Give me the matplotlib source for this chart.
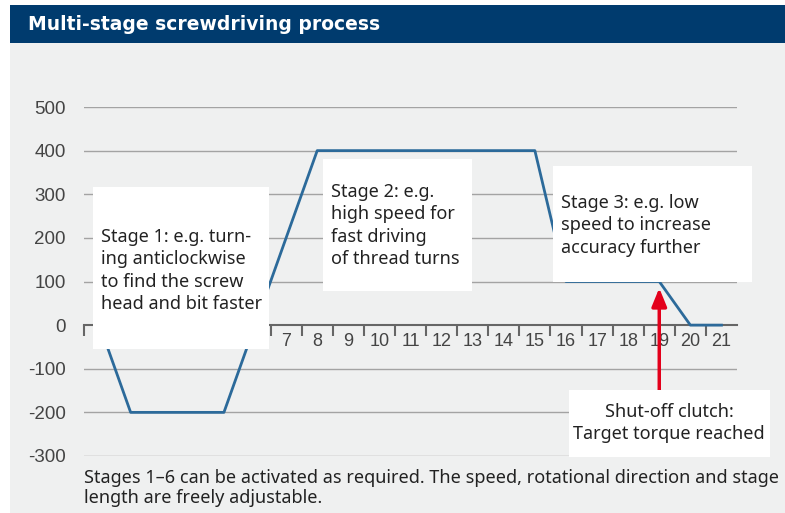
import matplotlib.pyplot as plt
from matplotlib.patches import Rectangle

plt.rcParams['axes.unicode_minus'] = False

# stage profile: speed per time step
steps = list(range(1, 22))
speed = [0, -200, -200, -200, -200, 0, 200, 400, 400, 400, 400, 400, 400, 400, 400,
         100, 100, 100, 100, 0, 0]
yticks = [-300, -200, -100, 0, 100, 200, 300, 400, 500]

W, H = 785, 513
fig = plt.figure(figsize=(W / 100, H / 100), dpi=100)
fig.patch.set_facecolor('white')


def box(x0, y0, x1, y1, color, z=5):
    # pixel coords from top-left
    r = Rectangle((x0 / W, 1 - y1 / H), (x1 - x0) / W, (y1 - y0) / H,
                  transform=fig.transFigure, facecolor=color, edgecolor='none', zorder=z)
    fig.add_artist(r)


# backgrounds
box(10, 43, 785, 513, '#eff0f0', z=0)
box(10, 5, 785, 43, '#003b6e', z=0)
fig.text(28 / W, 1 - 24 / H, 'Multi-stage screwdriving process', color='white',
         fontsize=13.5, fontweight='bold', family='DejaVu Sans', va='center', ha='left')

# chart area
ax = fig.add_axes([84 / W, 1 - 456 / H, (737 - 84) / W, (456 - 107) / H])
ax.set_facecolor('none')
ax.set_xlim(0.5, 21.5)
ax.set_ylim(-300, 500)
for v in yticks:
    if v != 0:
        ax.axhline(v, color='#a3a3a3', lw=1, zorder=1)
ax.plot(steps, speed, color='#2c6a9a', lw=2, zorder=3)

for s in ['top', 'right', 'left']:
    ax.spines[s].set_visible(False)
ax.spines['bottom'].set_position(('data', 0))
ax.spines['bottom'].set_color('#666666')
ax.spines['bottom'].set_linewidth(1.5)
ax.spines['bottom'].set_zorder(2)

ax.set_xticks(steps)
ax.set_xticklabels([str(s) for s in steps])
ax.set_xticks([s + 0.5 for s in range(0, 21)], minor=True)
ax.tick_params(axis='x', which='major', length=0, pad=6, labelsize=13, labelcolor='#444444')
ax.tick_params(axis='x', which='minor', length=8, width=1.5, color='#666666', direction='out')
ax.set_yticks(yticks)
ax.tick_params(axis='y', length=0, pad=13, labelsize=13.5, labelcolor='#444444')
for lbl in ax.get_xticklabels() + ax.get_yticklabels():
    lbl.set_family('Liberation Sans')

# shut-off arrow
ax.annotate('', xy=(19, 85), xytext=(19, -160),
            arrowprops=dict(arrowstyle='-|>,head_length=1.1,head_width=0.45',
                            color='#e3001b', lw=2.5, shrinkA=0, shrinkB=0), zorder=4)

# annotation boxes
box(93, 187, 269, 349, 'white')
box(323, 159, 472, 291, 'white')
box(553, 166, 752, 282, 'white')
box(569, 390, 770, 457, 'white')

tkw = dict(fontsize=13, family='Noto Sans', color='#222222', va='top', linespacing=1.32, zorder=6)
fig.text(101 / W, 1 - 228 / H, 'Stage 1: e.g. turn-\ning anticlockwise\nto find the screw\nhead and bit faster', **tkw)
fig.text(331 / W, 1 - 183 / H, 'Stage 2: e.g.\nhigh speed for\nfast driving\nof thread turns', **tkw)
fig.text(561 / W, 1 - 194 / H, 'Stage 3: e.g. low\nspeed to increase\naccuracy further', **tkw)
fig.text(669 / W, 1 - 403 / H, 'Shut-off clutch:\nTarget torque reached', ha='center', **tkw)

fig.text(84 / W, 1 - 469 / H,
         'Stages 1\u20136 can be activated as required. The speed, rotational direction and stage\n'
         'length are freely adjustable.', fontsize=13, family='Noto Sans', color='#222222',
         va='top', linespacing=1.12)

fig.savefig('out.png', dpi=100)
